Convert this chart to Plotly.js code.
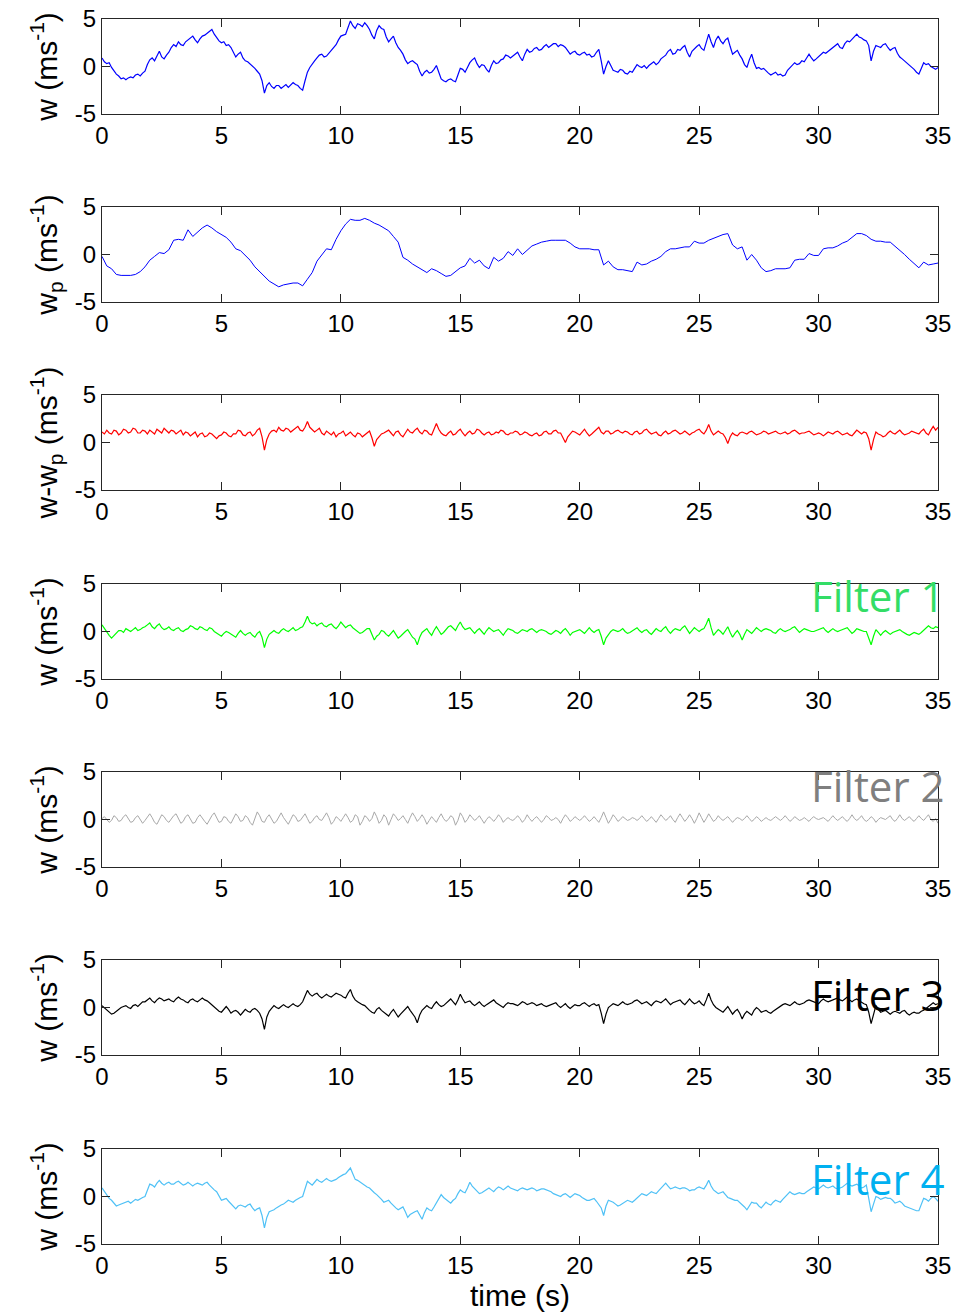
<!DOCTYPE html>
<html>
<head>
<meta charset="utf-8">
<script src="https://cdn.plot.ly/plotly-3.0.1.min.js"></script>
<style>
  html, body { margin: 0; padding: 0; background: #ffffff; }
  #chart { width: 955px; height: 1316px; }
</style>
</head>
<body>
<div id="chart"></div>
<script>
// Vertical velocity records over 35 s.
// The raw and filtered records are sampled every 0.1 s (351 samples),
// the smoothed component every 0.2 s (176 samples).
const recordLength = 35;

// measured vertical velocity w
const wMeasured = [
  0.9, 0.5, 0.3, 0.4, -0.1, -0.5, -0.8, -1.0, -1.3, -1.2, -1.4, -1.2, -1.1, -1.2, -0.9, -0.8, -1.0, -0.7, -0.5, 0.2,
  0.7, 0.9, 0.6, 1.1, 1.6, 1.0, 0.8, 1.2, 1.5, 2.0, 2.3, 2.1, 2.6, 2.3, 2.2, 2.6, 2.8, 3.1, 3.2, 2.8,
  2.5, 2.9, 3.2, 3.3, 3.5, 3.7, 3.9, 3.4, 3.0, 2.7, 2.5, 2.6, 2.2, 2.3, 2.0, 1.4, 1.0, 1.3, 1.5, 0.9,
  0.6, 0.5, 0.3, 0.0, -0.2, -0.5, -0.8, -1.5, -2.8, -2.0, -1.7, -2.1, -2.3, -2.0, -2.0, -2.3, -2.1, -1.9, -2.2, -2.0,
  -1.7, -1.9, -2.0, -2.3, -2.5, -1.5, -0.6, -0.1, 0.3, 0.6, 0.9, 1.2, 1.3, 1.0, 1.1, 1.4, 1.7, 1.9, 2.3, 2.8,
  3.2, 3.3, 3.4, 4.1, 4.8, 4.3, 4.0, 4.5, 4.4, 4.2, 4.6, 4.3, 3.9, 3.3, 2.9, 3.8, 4.3, 4.0, 3.9, 3.1,
  2.6, 2.9, 3.2, 2.5, 2.0, 1.7, 1.3, 0.7, 0.3, 0.5, 0.6, 0.4, 0.2, -0.5, -1.0, -0.6, -0.4, -0.7, -0.6, -0.3,
  0.1, -0.6, -1.3, -1.5, -1.6, -1.4, -1.3, -1.5, -1.6, -0.9, -0.2, -0.3, -0.6, -0.1, 0.4, 0.7, 0.9, 0.3, -0.1, 0.2,
  0.1, -0.3, -0.6, 0.1, 0.6, 0.3, 0.4, 0.7, 0.8, 1.2, 1.1, 0.9, 1.1, 1.4, 1.5, 1.0, 0.6, 1.3, 1.8, 1.5,
  1.6, 1.9, 2.0, 1.7, 1.8, 2.1, 2.3, 2.0, 2.2, 2.4, 2.4, 2.1, 2.3, 2.2, 2.0, 1.6, 1.3, 1.5, 1.6, 1.3,
  1.2, 1.4, 1.5, 1.2, 1.3, 1.0, 1.1, 1.5, 1.8, 0.6, -0.8, 0.0, 0.6, 0.1, -0.4, -0.5, -0.6, -0.3, -0.4, -0.7,
  -0.8, -0.5, -0.6, -0.2, 0.2, 0.0, -0.1, 0.1, -0.2, 0.1, 0.3, 0.5, 0.2, 0.4, 0.8, 1.0, 1.2, 1.6, 1.8, 1.3,
  1.4, 1.8, 1.7, 2.0, 2.2, 1.5, 1.0, 1.6, 1.9, 2.1, 2.3, 1.9, 1.7, 2.6, 3.4, 2.6, 2.0, 2.8, 3.2, 2.7,
  2.4, 2.8, 3.0, 2.1, 1.3, 1.5, 1.7, 1.2, 0.8, 0.2, -0.1, 0.7, 1.3, 0.4, -0.2, -0.1, -0.3, -0.2, -0.5, -0.7,
  -0.9, -0.7, -0.6, -0.9, -0.8, -1.0, -0.9, -0.4, -0.1, 0.2, 0.4, 0.2, 0.3, 0.6, 0.5, 0.9, 1.3, 0.9, 0.6, 0.8,
  1.0, 1.3, 1.5, 1.4, 1.6, 1.8, 1.9, 2.2, 2.4, 2.0, 1.9, 2.4, 2.7, 2.6, 2.9, 3.2, 3.4, 3.1, 3.0, 2.8,
  2.7, 2.2, 0.6, 1.6, 2.2, 2.1, 2.0, 2.3, 2.4, 2.0, 1.7, 1.9, 2.0, 1.4, 1.0, 0.8, 0.6, 0.4, 0.2, 0.0,
  -0.3, -0.6, -0.8, -0.2, 0.4, 0.2, 0.3, 0.0, -0.2, -0.3, -0.1
];

// smoothed (low-pass) component w_p
const wSmooth = [
  -0.2, -1.2, -1.5, -2.1, -2.2, -2.2, -2.2, -2.1, -1.8, -1.3,
  -0.6, -0.2, 0.2, 0.1, 0.5, 1.5, 1.6, 1.5, 2.6, 1.9,
  2.4, 2.8, 3.1, 2.8, 2.4, 2.1, 1.8, 1.3, 0.6, 0.4,
  -0.1, -0.6, -1.3, -1.8, -2.4, -2.8, -3.1, -3.4, -3.2, -3.1,
  -3.0, -3.0, -3.3, -2.6, -1.9, -0.7, -0.1, 0.6, 0.5, 1.6,
  2.5, 3.2, 3.7, 3.6, 3.6, 3.8, 3.6, 3.3, 3.1, 2.8,
  2.5, 1.9, 1.3, -0.3, -0.6, -1.0, -1.3, -1.6, -1.9, -1.5,
  -1.7, -2.0, -2.3, -2.2, -1.8, -1.4, -1.2, -0.4, -0.9, -0.6,
  -1.2, -1.5, -0.3, -0.7, -0.4, 0.3, -0.1, 0.6, 0.0, 0.4,
  0.9, 1.1, 1.3, 1.4, 1.5, 1.5, 1.5, 1.5, 1.2, 0.8,
  0.6, 0.6, 0.6, 0.5, 0.5, -1.1, -0.7, -1.3, -1.6, -1.6,
  -1.7, -1.8, -0.8, -1.1, -1.0, -0.7, -0.5, -0.2, 0.3, 0.6,
  0.6, 0.7, 0.8, 0.8, 1.4, 1.2, 1.2, 1.5, 1.7, 1.9,
  2.1, 2.2, 1.0, 0.6, 0.8, -0.6, 0.0, -0.6, -1.4, -1.8,
  -1.7, -1.5, -1.5, -1.5, -1.4, -0.6, -0.5, -0.5, 0.1, -0.1,
  -0.1, 0.6, 0.7, 0.7, 0.9, 1.2, 1.4, 1.8, 2.2, 2.2,
  2.0, 1.6, 1.4, 1.4, 1.3, 1.3, 0.9, 0.4, 0.0, -0.5,
  -0.9, -1.4, -0.8, -1.1, -1.0, -0.9
];

// residual w - w_p
const wResidual = [
  1.1, 0.9, 1.3, 1.0, 0.9, 1.3, 1.2, 0.8, 1.0, 1.4, 1.3, 1.0, 1.1, 1.5, 1.4, 1.0, 1.0, 1.3, 1.2, 0.9,
  1.3, 1.1, 0.9, 1.4, 1.2, 1.0, 1.5, 1.2, 1.0, 1.3, 1.2, 0.9, 1.1, 1.3, 0.8, 1.1, 1.0, 0.7, 0.9, 1.1,
  0.6, 0.9, 1.0, 0.6, 0.7, 1.0, 0.9, 0.6, 0.4, 0.7, 0.8, 1.1, 1.0, 0.7, 0.6, 0.9, 0.9, 1.3, 1.2, 0.8,
  0.7, 1.0, 1.1, 0.7, 0.9, 1.3, 1.5, 0.6, -0.8, 0.3, 0.9, 1.2, 1.3, 1.1, 1.6, 1.3, 1.2, 1.5, 1.4, 1.1,
  1.3, 1.5, 1.7, 1.3, 1.2, 1.6, 2.2, 1.6, 1.4, 1.1, 1.3, 1.5, 1.0, 0.8, 1.2, 1.0, 0.8, 1.1, 0.6, 0.9,
  1.0, 1.2, 0.7, 0.9, 1.1, 0.8, 0.6, 1.0, 0.9, 0.6, 0.8, 1.1, 1.2, 0.5, -0.4, 0.3, 0.6, 0.9, 1.0, 1.2,
  1.3, 1.0, 0.7, 1.1, 1.2, 0.8, 0.6, 1.0, 1.4, 1.1, 1.0, 1.3, 1.5, 1.1, 0.9, 1.3, 1.2, 0.9, 0.8, 1.4,
  2.0, 1.4, 1.0, 0.8, 0.7, 1.0, 1.2, 0.8, 0.9, 1.2, 1.4, 1.0, 0.7, 1.0, 1.2, 0.9, 1.0, 1.4, 1.3, 1.0,
  0.8, 1.0, 1.1, 0.8, 0.9, 1.1, 1.0, 1.3, 1.2, 0.9, 0.8, 1.0, 1.0, 1.2, 1.1, 0.8, 0.9, 1.1, 1.0, 0.8,
  0.7, 0.9, 1.0, 0.7, 0.8, 1.1, 1.2, 0.9, 0.9, 1.2, 1.3, 1.0, 1.0, 0.5, 0.0, 0.6, 0.9, 1.2, 1.1, 0.9,
  0.8, 1.1, 1.4, 1.0, 0.7, 0.9, 1.1, 1.4, 1.6, 1.1, 0.9, 1.2, 1.2, 0.9, 1.0, 1.2, 1.3, 1.1, 1.0, 1.2,
  1.1, 0.9, 0.8, 1.1, 1.2, 0.9, 1.0, 1.3, 1.4, 1.1, 0.9, 1.0, 1.1, 0.8, 0.7, 1.0, 1.2, 0.9, 1.0, 1.2,
  1.3, 1.1, 0.9, 1.0, 1.2, 1.0, 0.8, 1.0, 1.1, 1.3, 1.4, 1.1, 0.9, 1.3, 1.9, 1.2, 0.8, 1.0, 1.2, 1.0,
  0.9, 0.5, -0.1, 0.6, 1.0, 0.8, 0.7, 1.0, 1.1, 1.0, 0.9, 1.1, 1.2, 1.0, 0.8, 0.9, 1.0, 1.2, 1.1, 0.9,
  1.0, 1.1, 1.2, 1.0, 0.9, 1.0, 1.1, 0.9, 1.0, 1.2, 1.3, 1.1, 0.9, 1.0, 1.0, 1.1, 1.2, 1.0, 0.8, 0.9,
  1.0, 0.9, 0.7, 0.9, 1.1, 1.0, 0.9, 1.1, 1.2, 1.0, 0.8, 0.9, 1.0, 0.8, 0.7, 1.0, 1.3, 1.1, 0.9, 1.1,
  1.0, 0.4, -0.8, 0.3, 1.1, 0.9, 0.8, 0.6, 0.7, 1.0, 1.2, 1.0, 0.9, 1.1, 1.3, 1.0, 0.8, 0.9, 1.0, 1.2,
  1.1, 1.0, 0.9, 1.2, 1.4, 1.0, 0.8, 1.3, 1.7, 1.3, 1.6
];

// Filter 1 output
const filter1 = [
  0.7, 0.3, 0.0, -0.4, -0.7, -0.4, -0.2, 0.1, 0.1, -0.1, 0.3, 0.1, 0.0, 0.2, 0.4, 0.1, 0.2, 0.4, 0.5, 0.7,
  0.9, 0.5, 0.3, 0.6, 0.8, 0.4, 0.2, 0.3, 0.5, 0.2, 0.1, 0.3, 0.4, 0.1, 0.0, 0.2, 0.3, 0.6, 0.5, 0.3,
  0.2, 0.5, 0.4, 0.2, 0.1, 0.4, 0.3, 0.0, -0.2, -0.4, -0.5, -0.2, 0.0, -0.1, -0.3, -0.5, -0.6, -0.2, 0.1, -0.2,
  -0.4, -0.2, -0.1, -0.4, -0.6, -0.2, 0.0, -0.6, -1.7, -0.8, -0.3, -0.1, 0.1, -0.1, -0.2, 0.1, 0.3, 0.1, 0.0, 0.2,
  0.4, 0.1, 0.2, 0.4, 0.5, 1.0, 1.6, 1.0, 0.8, 0.9, 0.6, 0.8, 0.9, 0.6, 0.5, 0.7, 0.8, 0.5, 0.3, 0.6,
  1.0, 0.7, 0.4, 0.6, 0.7, 0.4, 0.2, 0.0, -0.2, -0.1, 0.1, 0.3, 0.3, -0.3, -0.9, -0.5, -0.3, 0.1, 0.0, -0.3,
  -0.5, -0.2, 0.1, -0.3, -0.7, -0.5, -0.2, 0.0, 0.2, -0.2, -0.6, -0.8, -1.4, -0.6, -0.1, 0.1, 0.3, -0.1, -0.4, 0.1,
  0.5, 0.1, -0.3, -0.1, 0.2, 0.5, 0.6, 0.3, 0.1, 0.6, 1.0, 0.5, 0.2, 0.3, 0.4, 0.1, -0.2, 0.1, 0.3, 0.0,
  -0.3, 0.1, 0.4, 0.2, 0.0, 0.1, 0.2, -0.1, -0.4, 0.0, 0.3, 0.2, 0.1, -0.1, -0.2, 0.0, 0.2, 0.1, 0.0, 0.2,
  0.3, 0.1, -0.1, 0.1, 0.2, 0.1, 0.0, -0.2, -0.3, -0.1, 0.1, 0.0, -0.2, 0.1, 0.3, 0.0, -0.4, -0.1, 0.0, 0.1,
  0.2, 0.0, -0.2, 0.1, 0.4, 0.1, -0.1, 0.1, 0.2, -0.5, -1.4, -0.7, -0.3, 0.0, 0.2, 0.1, 0.0, 0.1, 0.3, 0.0,
  -0.2, -0.1, 0.1, 0.3, 0.4, 0.1, -0.1, 0.1, 0.2, -0.1, -0.3, 0.0, 0.3, 0.1, 0.0, 0.3, 0.5, 0.1, -0.2, 0.1,
  0.3, 0.2, 0.1, 0.4, 0.6, 0.2, -0.2, 0.1, 0.4, 0.2, 0.0, 0.2, 0.3, 0.8, 1.4, 0.4, -0.4, -0.1, 0.2, 0.0,
  -0.3, 0.1, 0.5, -0.1, -0.6, -0.2, 0.1, -0.3, -0.9, -0.3, 0.2, 0.0, -0.2, 0.1, 0.4, 0.2, 0.0, 0.2, 0.3, 0.2,
  0.1, -0.1, -0.2, 0.1, 0.3, 0.1, 0.0, 0.1, 0.2, 0.4, 0.5, 0.2, -0.1, 0.1, 0.3, 0.2, 0.1, 0.0, 0.0, 0.1,
  0.2, 0.3, 0.4, 0.1, -0.1, 0.1, 0.3, 0.1, 0.0, 0.1, 0.2, 0.3, 0.4, 0.1, -0.2, 0.0, 0.3, 0.2, 0.1, 0.0,
  0.0, -0.6, -1.4, -0.5, 0.2, -0.1, -0.4, -0.1, 0.1, -0.1, -0.3, -0.1, 0.0, 0.1, 0.2, 0.0, -0.2, -0.3, -0.4, -0.2,
  -0.1, -0.2, -0.3, -0.1, 0.1, 0.4, 0.6, 0.4, 0.3, 0.5, 0.4
];

// Filter 2 output
const filter2 = [
  0.1, 0.3, 0.0, -0.3, -0.1, 0.4, 0.2, -0.2, -0.1, 0.3, 0.5, 0.1, -0.3, -0.2, 0.2, 0.4, 0.0, -0.4, -0.1, 0.3,
  0.6, 0.2, -0.3, -0.5, 0.0, 0.5, 0.3, -0.1, -0.3, 0.1, 0.4, 0.6, 0.1, -0.4, -0.2, 0.3, 0.5, 0.0, -0.4, -0.3,
  0.2, 0.5, 0.1, -0.2, -0.5, 0.0, 0.4, 0.7, 0.2, -0.3, -0.2, 0.3, 0.2, -0.2, -0.4, 0.1, 0.6, 0.3, -0.2, -0.1,
  0.4, 0.2, -0.3, -0.6, 0.1, 0.8, 0.4, -0.2, -0.3, 0.2, 0.5, 0.1, -0.4, -0.2, 0.3, 0.7, 0.2, -0.1, -0.5, 0.0,
  0.5, 0.3, -0.2, -0.1, 0.2, 0.6, 0.1, -0.4, -0.2, 0.2, 0.4, 0.0, -0.1, 0.3, 0.7, 0.2, -0.5, -0.2, 0.3, 0.1,
  -0.2, 0.2, 0.6, 0.2, -0.3, -0.1, 0.5, 0.3, -0.6, -0.2, 0.4, 0.2, -0.2, 0.1, 0.8, 0.3, -0.4, -0.1, 0.5, 0.2,
  -0.6, 0.0, 0.6, 0.3, -0.1, 0.1, 0.4, 0.0, -0.4, 0.2, 0.7, 0.3, -0.2, 0.1, 0.5, 0.1, -0.5, -0.1, 0.3, 0.0,
  -0.3, 0.2, 0.6, 0.1, -0.2, 0.0, 0.4, 0.2, -0.6, -0.1, 0.7, 0.3, -0.3, 0.0, 0.5, 0.2, -0.1, 0.1, 0.4, 0.0,
  -0.4, 0.0, 0.3, 0.1, -0.2, 0.1, 0.5, 0.2, -0.3, 0.0, 0.2, 0.0, -0.1, 0.1, 0.4, 0.1, -0.3, 0.0, 0.5, 0.1,
  -0.2, 0.1, 0.3, 0.0, -0.3, 0.0, 0.4, 0.2, -0.1, 0.0, 0.2, 0.0, -0.4, 0.1, 0.5, 0.2, -0.2, 0.0, 0.3, 0.1,
  -0.1, 0.1, 0.4, 0.1, -0.2, 0.0, 0.3, 0.0, -0.3, 0.2, 0.8, 0.2, -0.4, 0.0, 0.5, 0.2, -0.2, 0.0, 0.3, 0.1,
  -0.1, 0.0, 0.2, 0.1, -0.1, 0.1, 0.4, 0.1, -0.2, 0.0, 0.3, 0.0, -0.3, 0.1, 0.5, 0.2, -0.1, 0.1, 0.4, 0.0,
  -0.3, 0.2, 0.6, 0.2, -0.2, 0.1, 0.5, 0.1, -0.4, 0.1, 0.7, 0.2, -0.3, 0.1, 0.6, 0.2, -0.2, 0.0, 0.4, 0.1,
  -0.1, 0.1, 0.3, 0.0, -0.3, 0.0, 0.2, 0.1, -0.1, 0.1, 0.4, 0.1, -0.2, 0.0, 0.3, 0.1, -0.2, 0.0, 0.2, 0.0,
  -0.1, 0.1, 0.3, 0.1, -0.1, 0.1, 0.4, 0.1, -0.2, 0.0, 0.3, 0.1, -0.1, 0.0, 0.2, 0.0, -0.2, 0.1, 0.3, 0.1,
  0.0, 0.1, 0.2, 0.0, -0.2, 0.1, 0.4, 0.1, -0.1, 0.1, 0.3, 0.0, -0.2, 0.1, 0.5, 0.1, -0.1, 0.1, 0.4, 0.0,
  -0.2, 0.0, 0.3, 0.1, -0.3, 0.0, 0.2, 0.1, 0.0, 0.2, 0.4, 0.0, -0.2, 0.1, 0.5, 0.1, -0.1, 0.1, 0.3, 0.0,
  -0.2, 0.1, 0.4, 0.1, -0.1, 0.2, 0.5, 0.0, -0.2, 0.1, -0.4
];

// Filter 3 output
const filter3 = [
  0.2, 0.0, -0.3, -0.5, -0.7, -0.6, -0.4, -0.1, 0.0, 0.1, 0.2, 0.0, -0.1, 0.2, 0.3, 0.1, 0.4, 0.6, 0.6, 0.8,
  1.0, 0.7, 0.5, 0.8, 1.0, 0.9, 0.7, 0.8, 0.9, 0.7, 0.6, 0.9, 1.1, 0.9, 0.8, 0.6, 0.5, 0.8, 0.9, 0.7,
  0.6, 0.8, 1.0, 0.8, 0.7, 0.5, 0.3, 0.0, -0.2, -0.4, -0.5, -0.2, 0.1, -0.2, -0.6, -0.4, -0.3, -0.5, -0.8, -0.5,
  -0.2, -0.4, -0.5, -0.2, -0.1, -0.3, -0.6, -1.2, -2.3, -1.0, -0.4, -0.1, 0.2, 0.0, -0.1, 0.1, 0.3, 0.1, 0.0, 0.2,
  0.4, 0.2, 0.1, 0.3, 0.6, 1.2, 1.8, 1.4, 1.2, 1.4, 1.5, 1.2, 1.0, 1.2, 1.4, 1.2, 1.1, 1.3, 1.5, 1.4,
  1.3, 1.1, 1.0, 1.5, 1.9, 1.2, 0.8, 0.6, 0.4, 0.3, 0.2, -0.1, -0.3, -0.5, -0.6, -0.2, 0.0, -0.3, -0.5, -0.7,
  -0.9, -0.5, -0.2, -0.6, -1.0, -0.7, -0.4, -0.1, 0.1, -0.3, -0.7, -1.0, -1.6, -0.8, -0.3, 0.0, 0.2, 0.0, -0.1, 0.3,
  0.6, 0.3, 0.1, 0.2, 0.4, 0.7, 0.9, 0.6, 0.3, 0.8, 1.4, 0.9, 0.5, 0.6, 0.7, 0.4, 0.2, 0.4, 0.6, 0.3,
  0.1, 0.3, 0.5, 0.7, 0.8, 0.5, 0.3, 0.1, 0.0, 0.3, 0.5, 0.4, 0.4, 0.3, 0.2, 0.4, 0.6, 0.5, 0.3, 0.4,
  0.5, 0.4, 0.2, 0.3, 0.4, 0.2, 0.1, 0.2, 0.3, 0.4, 0.5, 0.2, 0.0, 0.2, 0.4, 0.1, -0.1, 0.1, 0.3, 0.2,
  0.2, 0.4, 0.5, 0.3, 0.1, 0.3, 0.4, 0.2, 0.3, -0.6, -1.7, -0.7, 0.0, 0.2, 0.4, 0.3, 0.2, 0.4, 0.6, 0.4,
  0.3, 0.4, 0.5, 0.7, 0.8, 0.6, 0.4, 0.5, 0.6, 0.4, 0.2, 0.5, 0.7, 0.6, 0.5, 0.7, 0.9, 0.6, 0.3, 0.5,
  0.6, 0.7, 0.8, 0.5, 0.3, 0.6, 0.9, 0.6, 0.4, 0.5, 0.7, 0.4, 0.2, 0.8, 1.5, 0.8, 0.3, 0.0, -0.2, -0.3,
  -0.5, -0.2, 0.1, -0.3, -0.7, -0.4, -0.2, -0.6, -1.2, -0.7, -0.4, -0.6, -0.8, -0.3, 0.0, -0.2, -0.5, -0.4, -0.3, -0.5,
  -0.6, -0.4, -0.2, -0.1, 0.1, 0.3, 0.4, 0.3, 0.2, 0.4, 0.6, 0.4, 0.3, 0.4, 0.5, 0.7, 0.8, 0.7, 0.6, 0.5,
  0.4, 0.7, 0.9, 0.7, 0.6, 0.7, 0.8, 0.9, 1.0, 0.8, 0.7, 0.9, 1.1, 0.8, 0.6, 0.8, 0.9, 0.7, 0.5, 0.4,
  0.3, -0.5, -1.7, -0.6, 0.2, -0.2, -0.5, -0.4, -0.3, -0.5, -0.7, -0.5, -0.4, -0.5, -0.6, -0.4, -0.3, -0.6, -0.8, -0.6,
  -0.5, -0.6, -0.6, -0.4, -0.3, -0.1, 0.1, 0.3, 0.5, 0.3, 0.4
];

// Filter 4 output
const filter4 = [
  0.9, 0.5, 0.2, -0.2, -0.4, -0.7, -1.0, -0.9, -0.8, -0.7, -0.6, -0.5, -0.7, -0.5, -0.3, -0.4, -0.2, -0.1, 0.0, 0.6,
  1.3, 1.2, 1.0, 1.4, 1.7, 1.4, 1.2, 1.4, 1.5, 1.3, 1.3, 1.5, 1.6, 1.4, 1.2, 1.3, 1.5, 1.3, 1.1, 1.3,
  1.4, 1.3, 1.2, 1.4, 1.5, 1.2, 0.9, 0.7, 0.5, 0.0, -0.4, -0.3, -0.2, -0.5, -0.8, -1.1, -1.3, -1.0, -0.9, -1.0,
  -1.1, -0.9, -0.8, -1.2, -1.5, -1.3, -1.2, -2.0, -3.3, -2.2, -1.6, -1.5, -1.4, -1.2, -1.0, -0.9, -0.8, -0.6, -0.4, -0.5,
  -0.6, -0.4, -0.2, -0.1, 0.0, 0.9, 1.6, 1.4, 1.2, 1.5, 1.8, 1.6, 1.5, 1.7, 1.9, 1.7, 1.6, 1.7, 1.8, 2.0,
  2.2, 2.3, 2.4, 2.7, 3.0, 2.4, 1.8, 1.7, 1.5, 1.3, 1.2, 1.0, 0.9, 0.6, 0.4, 0.2, 0.0, -0.3, -0.6, -0.5,
  -0.4, -0.7, -1.0, -1.2, -1.4, -1.2, -1.1, -1.6, -2.2, -1.9, -1.7, -1.6, -1.5, -2.0, -2.4, -1.7, -1.2, -1.4, -1.5, -1.1,
  -0.7, -0.3, 0.2, -0.1, -0.3, -0.5, -0.7, -0.4, -0.2, 0.3, 0.7, 0.5, 0.4, 0.9, 1.5, 1.1, 0.8, 0.5, 0.3, 0.4,
  0.6, 0.8, 0.9, 0.7, 0.5, 0.8, 1.0, 0.9, 0.7, 0.9, 1.1, 0.9, 0.8, 0.7, 0.6, 0.8, 0.9, 0.8, 0.7, 0.8,
  0.9, 0.8, 0.6, 0.7, 0.8, 0.8, 0.7, 0.6, 0.5, 0.3, 0.2, 0.1, 0.0, 0.2, 0.3, 0.1, -0.1, 0.1, 0.3, 0.2,
  0.1, -0.1, -0.3, -0.4, -0.4, -0.3, -0.2, -0.5, -0.8, -1.2, -2.0, -1.0, -0.4, -0.5, -0.6, -0.8, -1.0, -0.9, -0.7, -0.5,
  -0.4, -0.5, -0.6, -0.4, -0.2, 0.0, 0.3, 0.2, 0.1, 0.3, 0.5, 0.4, 0.3, 0.6, 0.9, 1.1, 1.4, 1.1, 0.8, 0.9,
  1.0, 0.9, 0.8, 0.9, 0.9, 0.8, 0.6, 0.7, 0.7, 0.9, 1.0, 0.9, 0.8, 1.2, 1.7, 1.1, 0.7, 0.5, 0.3, 0.4,
  0.5, 0.2, -0.1, -0.2, -0.3, -0.4, -0.4, -0.6, -0.9, -1.1, -1.4, -1.0, -0.6, -0.7, -0.7, -1.0, -1.2, -0.9, -0.6, -0.8,
  -0.9, -0.6, -0.4, -0.5, -0.6, -0.3, 0.0, 0.3, 0.5, 0.3, 0.2, 0.3, 0.4, 0.3, 0.3, 0.5, 0.7, 0.9, 1.0, 0.9,
  0.8, 1.0, 1.2, 1.0, 0.9, 1.0, 1.1, 0.9, 0.8, 0.9, 1.0, 1.2, 1.4, 1.2, 1.1, 1.2, 1.3, 1.1, 0.9, 1.0,
  1.2, -0.2, -1.6, -0.8, 0.0, -0.1, -0.3, -0.2, -0.1, -0.2, -0.2, -0.4, -0.7, -0.6, -0.5, -0.7, -1.0, -1.1, -1.2, -1.3,
  -1.4, -1.5, -1.5, -0.8, -0.2, -0.3, -0.5, -0.2, 0.0, -0.2, -0.5
];

const seriesList = [wMeasured, wSmooth, wResidual, filter1, filter2, filter3, filter4];
const seriesColors = ['#0000ff', '#0000ff', '#ff0000', '#00ff00', '#a8a8a8', '#000000', '#4fc1f6'];
const seriesWidths = [1.2, 1, 1.2, 1.2, 1, 1.2, 1.2];
const yTitles = [
  'w (ms<sup>-1</sup>)',
  'w<sub>p</sub> (ms<sup>-1</sup>)',
  'w-w<sub>p</sub> (ms<sup>-1</sup>)',
  'w (ms<sup>-1</sup>)',
  'w (ms<sup>-1</sup>)',
  'w (ms<sup>-1</sup>)',
  'w (ms<sup>-1</sup>)'
];
const filterLabels = ['Filter 1', 'Filter 2', 'Filter 3', 'Filter 4'];
const filterColors = ['#33dd66', '#7f7f7f', '#000000', '#00b0f0'];
const xTicks = [0, 5, 10, 15, 20, 25, 30, 35];
const yTicks = [-5, 0, 5];
const xTitle = 'time (s)';

// sample times for a record of n evenly spaced samples
function sampleTimes(n) {
  const step = recordLength / (n - 1);
  return Array.from({ length: n }, (_, i) => Math.round(i * step * 100) / 100);
}

// page geometry (pixels)
const W = 955, H = 1316;
const plotLeft = 102, plotRight = 938;
const panelTops = [19, 207, 395, 584, 772, 960, 1149];
const panelHeight = 95;
const labelCenters = [595, 785, 995, 1178];
const labelRight = 947;

const tickFont = { family: 'Liberation Sans, Arial, sans-serif', size: 24, color: '#000000' };
const titleFont = { family: 'Liberation Sans, Arial, sans-serif', size: 30, color: '#000000' };

const traces = [];
const layout = {
  width: W,
  height: H,
  margin: { l: 0, r: 0, t: 0, b: 0 },
  paper_bgcolor: '#ffffff',
  plot_bgcolor: '#ffffff',
  showlegend: false,
  annotations: []
};

seriesList.forEach((vals, i) => {
  const n = i === 0 ? '' : String(i + 1);
  traces.push({
    type: 'scatter',
    mode: 'lines',
    x: sampleTimes(vals.length),
    y: vals,
    xaxis: 'x' + n,
    yaxis: 'y' + n,
    line: { color: seriesColors[i], width: seriesWidths[i] },
    hoverinfo: 'skip'
  });

  const top = panelTops[i], bottom = top + panelHeight;
  const common = {
    showline: true,
    linecolor: '#262626',
    linewidth: 1,
    mirror: 'ticks',
    ticks: 'inside',
    ticklen: 8,
    tickwidth: 1,
    tickcolor: '#262626',
    showgrid: false,
    zeroline: false,
    tickfont: tickFont,
    fixedrange: true
  };
  const xAxis = Object.assign({}, common, {
    domain: [plotLeft / W, plotRight / W],
    anchor: 'y' + n,
    range: [0, 35],
    tickmode: 'array',
    tickvals: xTicks,
    ticktext: xTicks.map(String)
  });
  if (i === seriesList.length - 1) {
    xAxis.title = { text: xTitle, font: titleFont, standoff: 5 };
  }
  layout['xaxis' + n] = xAxis;
  layout['yaxis' + n] = Object.assign({}, common, {
    domain: [1 - bottom / H, 1 - top / H],
    anchor: 'x' + n,
    range: [-5, 5],
    tickmode: 'array',
    tickvals: yTicks,
    ticktext: yTicks.map(String),
    title: { text: yTitles[i], font: titleFont, standoff: 8 }
  });
});

filterLabels.forEach((label, k) => {
  layout.annotations.push({
    xref: 'paper', yref: 'paper',
    x: labelRight / W,
    y: 1 - labelCenters[k] / H,
    xanchor: 'right', yanchor: 'middle',
    text: label,
    showarrow: false,
    font: { family: 'Open Sans, Noto Sans, sans-serif', size: 42, color: filterColors[k] }
  });
});

Plotly.newPlot('chart', traces, layout, { staticPlot: true, displayModeBar: false });
</script>
</body>
</html>
